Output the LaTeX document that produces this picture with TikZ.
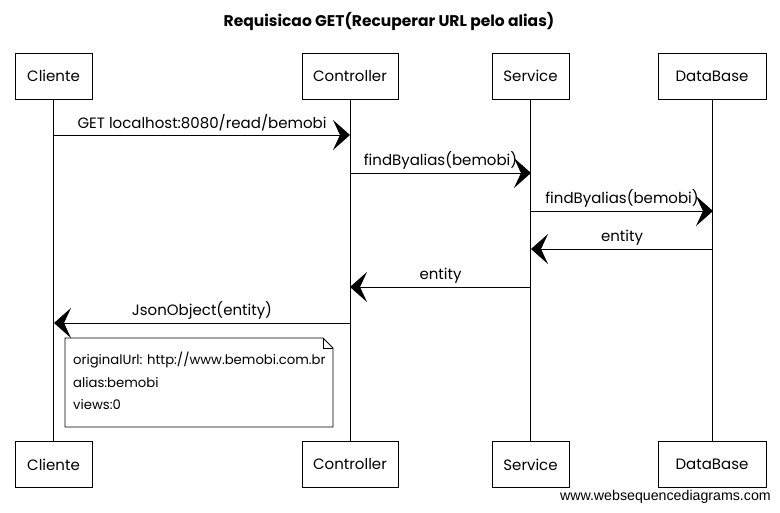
\documentclass[tikz,border=0pt]{standalone}
\usepackage{fontspec}
\setmainfont{Poppins}
\newfontfamily\wmfont{Liberation Sans}
\usetikzlibrary{arrows.meta}
\begin{document}
\begin{tikzpicture}[x=1pt,y=-1pt,
  lab/.style={font=\fontsize{15}{17}\selectfont},
  actor/.style={draw, line width=0.8pt, minimum height=46pt, inner sep=0pt, lab},
  life/.style={line width=0.7pt},
  msg/.style={line width=1pt, -{Stealth[length=17pt,width=30pt,inset=7pt]}},
  mlabel/.style={lab, above, inner sep=1pt, yshift=2pt},
  notebox/.style={line width=0.8pt}
]
\useasboundingbox (0,0) rectangle (780,512);
\node[font=\fontsize{15.5}{17}\selectfont\bfseries] (title) at (389,21) {Requisicao GET(Recuperar URL pelo alias)};

% actors top
\node[actor, minimum width=77pt]  (cliT) at (53.5,76) {Cliente};
\node[actor, minimum width=96pt]  (conT) at (350,76) {Controller};
\node[actor, minimum width=77pt]  (serT) at (530.5,76) {Service};
\node[actor, minimum width=108pt] (dbT)  at (712,76) {DataBase};
% actors bottom
\node[actor, minimum width=77pt]  (cliB) at (53.5,464.5) {Cliente};
\node[actor, minimum width=96pt]  (conB) at (350,464.5) {Controller};
\node[actor, minimum width=77pt]  (serB) at (530.5,464.5) {Service};
\node[actor, minimum width=108pt] (dbB)  at (712,464.5) {DataBase};

% lifelines
\draw[life] (cliT) -- (cliB);
\draw[life] (conT) -- (conB);
\draw[life] (serT) -- (serB);
\draw[life] (dbT) -- (dbB);

% message points
\coordinate (m1a) at (54,135);  \coordinate (m1b) at (350,135);
\coordinate (m2a) at (350,173); \coordinate (m2b) at (531,173);
\coordinate (m3a) at (531,211); \coordinate (m3b) at (713,211);
\coordinate (m4a) at (713,249); \coordinate (m4b) at (531,249);
\coordinate (m5a) at (531,287); \coordinate (m5b) at (350,287);
\coordinate (m6a) at (350,323); \coordinate (m6b) at (54,323);

\draw[msg] (m1a) -- node[mlabel] (l1) {GET localhost:8080/read/bemobi} (m1b);
\draw[msg] (m2a) -- node[mlabel] (l2) {findByalias(bemobi)} (m2b);
\draw[msg] (m3a) -- node[mlabel] (l3) {findByalias(bemobi)} (m3b);
\draw[msg] (m4a) -- node[mlabel] (l4) {entity} (m4b);
\draw[msg] (m5a) -- node[mlabel] (l5) {entity} (m5b);
\draw[msg] (m6a) -- node[mlabel] (l6) {JsonObject(entity)} (m6b);

% note
\coordinate (nNW) at (65,338);
\coordinate (nSE) at (333,427);
\coordinate (nF1) at (323,338);
\coordinate (nF2) at (333,348);
\draw[notebox] (nNW) -- (nF1) -- (nF2) -- (nSE) -- (nNW |- nSE) -- cycle;
\draw[notebox] (nF1) |- (nF2);
\node[anchor=north west, align=left, inner sep=0pt,
      font=\fontsize{13.2}{22.5}\selectfont]
  (note) at (73,352) {originalUrl: http://www.bemobi.com.br\\alias:bemobi\\views:0};

% watermark
\node[font=\wmfont\fontsize{14.2}{16}\selectfont, anchor=east, inner sep=0pt] (wm) at (771,497) {www.websequencediagrams.com};
\end{tikzpicture}
\end{document}
